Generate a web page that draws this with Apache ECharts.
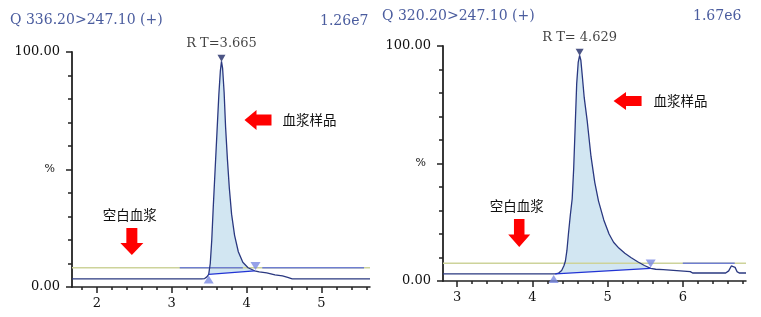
<!DOCTYPE html>
<html><head><meta charset="utf-8">
<script src="https://cdn.jsdelivr.net/npm/echarts@6/dist/echarts.min.js"></script>
<style>html,body{margin:0;padding:0;background:#fff}#c{width:761px;height:317px}</style>
</head><body><div id="c"></div>
<script>
// ---- text ----
const leftTitle = 'Q 336.20>247.10 (+)';
const leftScale = '1.26e7';
const rightTitle = 'Q 320.20>247.10 (+)';
const rightScale = '1.67e6';
const leftRT = 'R T=3.665';
const rightRT = 'R T= 4.629';
const sampleText = '血浆样品';
const blankText = '空白血浆';

// ---- axes ----
const leftXRange = [1.667, 5.65];
const rightXRange = [2.813, 6.84];
const leftMajorTicks = [2, 3, 4, 5];
const rightMajorTicks = [3, 4, 5, 6];
const leftMinorTicks = [1.8, 2.2, 2.4, 2.6, 2.8, 3.2, 3.4, 3.6, 3.8, 4.2, 4.4, 4.6, 4.8, 5.2, 5.4, 5.6];
const rightMinorTicks = [3.2, 3.4, 3.6, 3.8, 4.2, 4.4, 4.6, 4.8, 5.2, 5.4, 5.6, 5.8, 6.2, 6.4, 6.6, 6.8];
const yLabelValues = [0, 50, 100];
const yLabelTexts = { 0: '0.00', 50: '%', 100: '100.00' };

// ---- left chromatogram (x = min, y = %) ----
const leftSample = [[1.667,3.5],[2.2,3.5],[2.8,3.5],[3.40,3.5],[3.44,3.6],[3.47,4.3],[3.494,5.4],[3.515,10],[3.535,20],[3.555,34],[3.58,50],[3.605,66],[3.63,82],[3.65,92],[3.665,96],[3.68,93],[3.70,83],[3.72,68],[3.745,54],[3.77,42],[3.80,31],[3.84,22],[3.89,15],[3.95,10.5],[4.02,8.2],[4.107,6.9],[4.17,6.4],[4.27,6.0],[4.38,5.2],[4.48,4.7],[4.55,4.1],[4.61,3.5],[5.1,3.5],[5.65,3.5]];
const leftPeakRange = [3.494, 4.107];
const leftBlankOlive = [[1.667,8.2],[5.65,8.2]];
const leftBlankBlue1 = [[3.107,8.2],[3.95,8.2]];
const leftBlankBlue2 = [[4.21,8.2],[5.57,8.2]];
const leftIntegration = [[3.494,5.4],[4.107,6.9]];
const leftPeakMarker = [[3.665,97.3]];
const leftStartMarker = [[3.494,3.2]];
const leftEndMarker = [[4.12,8.9]];
const leftSampleArrow = [[4.153,71.1]];
const leftBlankArrow = [[2.467,19.4]];

// ---- right chromatogram ----
const rightSample = [[2.813,3.0],[3.5,3.0],[4.2,3.0],[4.306,3.0],[4.35,3.4],[4.39,4.5],[4.42,6.5],[4.44,8.5],[4.46,13],[4.48,20],[4.505,28],[4.53,35],[4.55,48],[4.57,66],[4.59,84],[4.61,93],[4.629,96],[4.645,94],[4.665,87],[4.69,78],[4.73,68],[4.78,53],[4.83,42],[4.88,34],[4.95,26],[5.02,20],[5.08,16.5],[5.15,14],[5.23,11.8],[5.31,10],[5.40,8.2],[5.49,6.6],[5.573,5.4],[5.64,5.0],[5.74,4.8],[5.76,4.1],[6.10,4.0],[6.13,3.4],[6.57,3.4],[6.61,4.3],[6.645,6.4],[6.67,7.0],[6.695,5.8],[6.72,4.0],[6.75,3.4],[6.84,3.4]];
const rightPeakRange = [4.306, 5.573];
const rightBlankOlive = [[2.813,7.6],[6.84,7.6]];
const rightBlankBlue1 = [[6.0,7.6],[6.69,7.6]];
const rightIntegration = [[4.306,3.0],[5.573,5.4]];
const rightPeakMarker = [[4.629,97.3]];
const rightStartMarker = [[4.284,0.9]];
const rightEndMarker = [[5.573,7.5]];
const rightSampleArrow = [[5.266,76.6]];
const rightBlankArrow = [[3.826,20.4]];

// ---- styles ----
const SERIF = 'DejaVu Serif';
const CJK = 'Noto Sans CJK SC';
const TRACE = '#2a3880';
const OLIVE = '#cdd39a';
const PERI = '#6f7ed0';
const INTEG = '#2234d4';
const MARK = '#7a8ae2';
const FILL = '#d2e6f2';
const RED = '#ff0000';
const AXIS = '#222';

const leftArrowPath = 'path://M0,10 L12,0 L12,4.5 L27,4.5 L27,15.5 L12,15.5 L12,20 Z';
const downArrowPath = 'path://M6,0 L17,0 L17,15 L23,15 L11.5,27 L0,15 L6,15 Z';

function xAxesFor(grid, range, majors, minors) {
  return [
    { type: 'value', gridIndex: grid, min: range[0], max: range[1],
      axisLine: { lineStyle: { color: AXIS, width: 1.5 } },
      axisTick: { customValues: majors, length: 6, lineStyle: { color: AXIS, width: 1.5 } },
      axisLabel: { customValues: majors, margin: 10, fontFamily: SERIF, fontSize: 13, color: '#111',
        formatter: v => String(Math.round(v)) },
      splitLine: { show: false } },
    { type: 'value', gridIndex: grid, min: range[0], max: range[1], position: 'bottom',
      axisLine: { show: false },
      axisTick: { customValues: minors, length: 3, lineStyle: { color: AXIS, width: 1.5 } },
      axisLabel: { show: false }, splitLine: { show: false } }
  ];
}
function yAxesFor(grid) {
  return [
    { type: 'value', gridIndex: grid, min: 0, max: 100, interval: 10, position: 'left',
      axisLine: { show: true, lineStyle: { color: AXIS, width: 1.8 } },
      axisTick: { show: true, length: 4, lineStyle: { color: AXIS, width: 1.5 } },
      axisLabel: { customValues: yLabelValues, margin: 12, fontFamily: SERIF, fontSize: 13, color: '#111',
        formatter: v => v === 50 ? '{p|%}' : yLabelTexts[v],
        rich: { p: { fontFamily: SERIF, fontSize: 11, color: '#111', padding: [0, 5, 0, 0] } } },
      splitLine: { show: false } },
    { type: 'value', gridIndex: grid, min: 0, max: 100, position: 'left',
      axisLine: { show: false },
      axisTick: { show: true, customValues: yLabelValues, length: 6, lineStyle: { color: AXIS, width: 1.5 } },
      axisLabel: { show: false }, splitLine: { show: false } }
  ];
}

function lineSeries(xi, yi, data, color, width, z) {
  return { type: 'line', xAxisIndex: xi, yAxisIndex: yi, data: data, showSymbol: false, symbol: 'none',
    lineStyle: { color: color, width: width }, z: z, silent: true, animation: false };
}
function fillSeries(xi, yi, sample, range) {
  const pts = sample.filter(p => p[0] >= range[0] - 1e-9 && p[0] <= range[1] + 1e-9);
  return { type: 'custom', xAxisIndex: xi, yAxisIndex: yi, data: [[range[0], 0]], z: 1, silent: true, animation: false,
    renderItem: function (params, api) {
      return { type: 'polygon', shape: { points: pts.map(p => api.coord(p)) },
        style: { fill: FILL, stroke: 'none' } };
    } };
}
function markerSeries(xi, yi, data, color, rotate, size, label) {
  return { type: 'scatter', xAxisIndex: xi, yAxisIndex: yi, data: data, symbol: 'triangle', symbolRotate: rotate,
    symbolSize: size, itemStyle: { color: color }, z: 6, silent: true, animation: false,
    label: label || { show: false } };
}
function arrowSeries(xi, yi, data, path, size, text, pos, dist, offset) {
  return { type: 'scatter', xAxisIndex: xi, yAxisIndex: yi, data: data, symbol: path, symbolSize: size,
    itemStyle: { color: RED, opacity: 1 }, z: 7, silent: true, animation: false,
    label: { show: true, formatter: text, position: pos, distance: dist, offset: offset || [0, 0],
      fontFamily: CJK, fontSize: 13.5, color: '#111' } };
}
function rtLabel(text, dist) {
  return { show: true, position: 'top', distance: dist, formatter: text,
    fontFamily: SERIF, fontSize: 13, color: '#111' };
}

const titleStyle = { fontFamily: SERIF, fontSize: 14, fontWeight: 'normal', color: '#4a5c9e' };

const option = {
  backgroundColor: '#fff',
  animation: false,
  title: [
    { text: leftTitle, left: 10, top: 13, padding: 0, textStyle: titleStyle },
    { text: leftScale, left: 320, top: 14, padding: 0, textStyle: titleStyle },
    { text: rightTitle, left: 382, top: 9, padding: 0, textStyle: titleStyle },
    { text: rightScale, left: 693, top: 9, padding: 0, textStyle: titleStyle }
  ],
  grid: [
    { left: 72, top: 52, width: 298, height: 235 },
    { left: 443, top: 46, width: 303, height: 235 }
  ],
  xAxis: [].concat(xAxesFor(0, leftXRange, leftMajorTicks, leftMinorTicks),
                   xAxesFor(1, rightXRange, rightMajorTicks, rightMinorTicks)),
  yAxis: [].concat(yAxesFor(0), yAxesFor(1)),
  series: [
    fillSeries(0, 0, leftSample, leftPeakRange),
    lineSeries(0, 0, leftBlankOlive, OLIVE, 1.5, 2),
    lineSeries(0, 0, leftBlankBlue1, PERI, 1.5, 3),
    lineSeries(0, 0, leftBlankBlue2, PERI, 1.5, 3),
    lineSeries(0, 0, leftSample, TRACE, 1.3, 4),
    lineSeries(0, 0, leftIntegration, INTEG, 1.3, 5),
    markerSeries(0, 0, leftPeakMarker, '#1f2b66', 180, [8, 7], rtLabel(leftRT, 5)),
    markerSeries(0, 0, leftStartMarker, MARK, 0, [10, 8]),
    markerSeries(0, 0, leftEndMarker, MARK, 180, [10, 8]),
    arrowSeries(0, 0, leftSampleArrow, leftArrowPath, [27, 20], sampleText, 'right', 11),
    arrowSeries(0, 0, leftBlankArrow, downArrowPath, [23, 27], blankText, 'top', 6, [-2, 0]),

    fillSeries(2, 2, rightSample, rightPeakRange),
    lineSeries(2, 2, rightBlankOlive, OLIVE, 1.5, 2),
    lineSeries(2, 2, rightBlankBlue1, PERI, 1.5, 3),
    lineSeries(2, 2, rightSample, TRACE, 1.3, 4),
    lineSeries(2, 2, rightIntegration, INTEG, 1.3, 5),
    markerSeries(2, 2, rightPeakMarker, '#1f2b66', 180, [8, 7], rtLabel(rightRT, 5)),
    markerSeries(2, 2, rightStartMarker, MARK, 0, [10, 8]),
    markerSeries(2, 2, rightEndMarker, MARK, 180, [10, 8]),
    arrowSeries(2, 2, rightSampleArrow, leftArrowPath, [28, 18], sampleText, 'right', 12),
    arrowSeries(2, 2, rightBlankArrow, downArrowPath, [22, 28], blankText, 'top', 6, [-2.5, 0])
  ]
};
const chart = echarts.init(document.getElementById('c'), null, { renderer: 'canvas' });
chart.setOption(option);
</script>
</body></html>
